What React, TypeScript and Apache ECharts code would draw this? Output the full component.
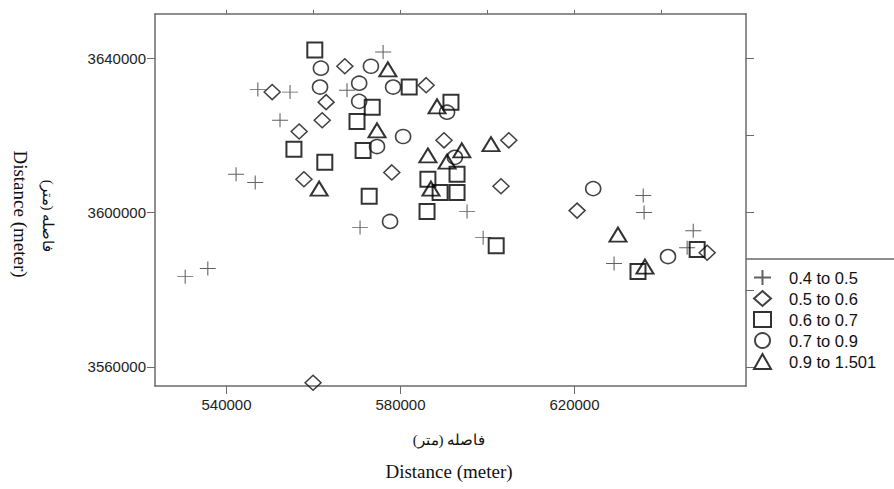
import React, { useEffect, useRef } from "react";
import * as echarts from "echarts";

// Classes (value ranges) and their points [x (m), y (m)]
const classNames = ["0.4 to 0.5", "0.5 to 0.6", "0.6 to 0.7", "0.7 to 0.9", "0.9 to 1.501"];

const pts04to05: [number, number][] = [
  [547200, 3631900], [554600, 3631200], [552300, 3623900], [542200, 3609900],
  [546600, 3607800], [530500, 3583400], [535700, 3585500], [567700, 3631700],
  [576000, 3641600], [570700, 3596100], [595300, 3600300], [599000, 3593500],
  [635800, 3604400], [636000, 3600000], [647300, 3595300], [645900, 3590900],
  [629100, 3586800],
];
const pts05to06: [number, number][] = [
  [550500, 3631200], [567200, 3637900], [562900, 3628600], [562000, 3623900],
  [556700, 3621000], [557800, 3608600], [585900, 3633000], [590000, 3618700],
  [604900, 3618700], [578000, 3610400], [603100, 3606800], [620600, 3600500],
  [650500, 3589600], [559900, 3555900],
];
const pts06to07: [number, number][] = [
  [560300, 3642100], [582000, 3632500], [591600, 3628600], [573500, 3627300],
  [570000, 3623600], [555500, 3616400], [562600, 3613000], [571400, 3616100],
  [586300, 3608600], [593000, 3609900], [589100, 3605200], [593000, 3605200],
  [572800, 3604200], [586100, 3600300], [602000, 3591400], [648200, 3590400],
  [634600, 3584700],
];
const pts07to09: [number, number][] = [
  [561700, 3637400], [561500, 3632500], [573200, 3637900], [570500, 3633500],
  [578300, 3632500], [570500, 3628800], [590700, 3626000], [580600, 3619700],
  [574600, 3617100], [592500, 3614300], [577600, 3597700], [624300, 3606200],
  [641500, 3588600],
];
const pts09to15: [number, number][] = [
  [577100, 3637100], [588400, 3627500], [574600, 3621300], [586300, 3614800],
  [594100, 3616100], [600800, 3617700], [590700, 3613200], [587000, 3606200],
  [561300, 3606200], [630000, 3594300], [636200, 3586000],
];

const xMin = 523560;
const xMax = 659430;
const yMin = 3555070;
const yMax = 3651430;
const xLabelTicks = [540000, 580000, 620000];
const xTopTicks = [540000, 560000, 580000, 600000, 620000, 640000];
const yLabelTicks = [3560000, 3600000, 3640000];
const yRightTicks = [3560000, 3580000, 3600000, 3620000, 3640000];

const axisTitleEn = "Distance (meter)";
const axisTitleFa = "فاصله (متر)";

const frameColor = "#6a6a6a";
const sansFont = "'Liberation Sans', Arial, sans-serif";
const serifFont = "'Liberation Serif', 'Times New Roman', serif";

export default function App() {
  const ref = useRef<HTMLDivElement>(null);

  useEffect(() => {
    if (!ref.current) return;
    const chart = echarts.init(ref.current, null, { renderer: "svg" });

    const lineStyle = { color: frameColor, width: 1.5 };
    const baseAxis = {
      type: "value" as const,
      splitLine: { show: false },
      axisLine: { show: true, lineStyle },
      axisTick: { show: true, inside: false, lineStyle: { color: frameColor, width: 1 } },
    };
    const plainNum = (v: number) => String(v);

    const seriesDefs = [
      { data: pts04to05, symbol: "path://M0,7L16,7M8,0L8,14", size: [16, 14], color: "#3a3a3a", bw: 1 },
      { data: pts05to06, symbol: "diamond", size: [16, 15], color: "#111", bw: 1.5 },
      { data: pts06to07, symbol: "rect", size: [15, 15], color: "#000", bw: 2 },
      { data: pts07to09, symbol: "circle", size: [15, 14], color: "#151515", bw: 1.6 },
      { data: pts09to15, symbol: "triangle", size: [17, 14], color: "#000", bw: 2 },
    ];

    chart.setOption({
      animation: false,
      backgroundColor: "#ffffff",
      grid: { left: 155, top: 14, width: 591, height: 372, show: false },
      xAxis: [
        {
          ...baseAxis,
          position: "bottom",
          min: xMin,
          max: xMax,
          axisTick: { ...baseAxis.axisTick, length: 8, customValues: xLabelTicks },
          axisLabel: {
            customValues: xLabelTicks,
            formatter: plainNum,
            margin: 11,
            fontSize: 15,
            fontFamily: sansFont,
            color: "#222",
          },
        },
        {
          ...baseAxis,
          position: "top",
          min: xMin,
          max: xMax,
          axisTick: { ...baseAxis.axisTick, length: 4, customValues: xTopTicks },
          axisLabel: { show: false },
        },
      ],
      yAxis: [
        {
          ...baseAxis,
          position: "left",
          min: yMin,
          max: yMax,
          axisTick: { ...baseAxis.axisTick, length: 8, customValues: yLabelTicks },
          axisLabel: {
            customValues: yLabelTicks,
            formatter: plainNum,
            margin: 9,
            fontSize: 15,
            fontFamily: sansFont,
            color: "#222",
          },
        },
        {
          ...baseAxis,
          position: "right",
          min: yMin,
          max: yMax,
          axisTick: { ...baseAxis.axisTick, length: 8, customValues: yRightTicks },
          axisLabel: { show: false },
        },
      ],
      legend: {
        orient: "vertical",
        left: 753,
        top: 269,
        padding: 0,
        itemWidth: 17,
        itemHeight: 15,
        itemGap: 4,
        data: classNames,
        textStyle: {
          fontSize: 16.5,
          lineHeight: 16,
          fontFamily: sansFont,
          color: "#111",
          padding: [0, 0, 0, 13],
        },
      },
      series: seriesDefs.map((d, i) => ({
        type: "scatter",
        name: classNames[i],
        xAxisIndex: 0,
        yAxisIndex: 0,
        symbol: d.symbol,
        symbolSize: d.size,
        data: d.data,
        itemStyle: { color: "rgba(0,0,0,0)", borderColor: d.color, borderWidth: d.bw },
        emphasis: { disabled: true },
      })),
      graphic: [
        {
          type: "line",
          shape: { x1: 746, y1: 259, x2: 894, y2: 259 },
          style: { stroke: frameColor, lineWidth: 1.5 },
        },
        {
          type: "text",
          x: 449,
          y: 440,
          style: {
            text: axisTitleFa,
            font: `15px ${serifFont}`,
            fill: "#111",
            textAlign: "center",
            textVerticalAlign: "middle",
            align: "center",
            verticalAlign: "middle",
          },
        },
        {
          type: "text",
          x: 449,
          y: 471,
          style: {
            text: axisTitleEn,
            font: `19px ${serifFont}`,
            fill: "#111",
            textAlign: "center",
            textVerticalAlign: "middle",
            align: "center",
            verticalAlign: "middle",
          },
        },
        {
          type: "text",
          x: 20,
          y: 214,
          rotation: -Math.PI / 2,
          style: {
            text: axisTitleEn,
            font: `19px ${serifFont}`,
            fill: "#111",
            textAlign: "center",
            textVerticalAlign: "middle",
            align: "center",
            verticalAlign: "middle",
          },
        },
        {
          type: "text",
          x: 48,
          y: 216,
          rotation: -Math.PI / 2,
          style: {
            text: axisTitleFa,
            font: `15px ${serifFont}`,
            fill: "#111",
            textAlign: "center",
            textVerticalAlign: "middle",
            align: "center",
            verticalAlign: "middle",
          },
        },
      ],
    });

    return () => chart.dispose();
  }, []);

  return <div ref={ref} style={{ width: 894, height: 489, position: "absolute", left: 0, top: 0 }} />;
}
